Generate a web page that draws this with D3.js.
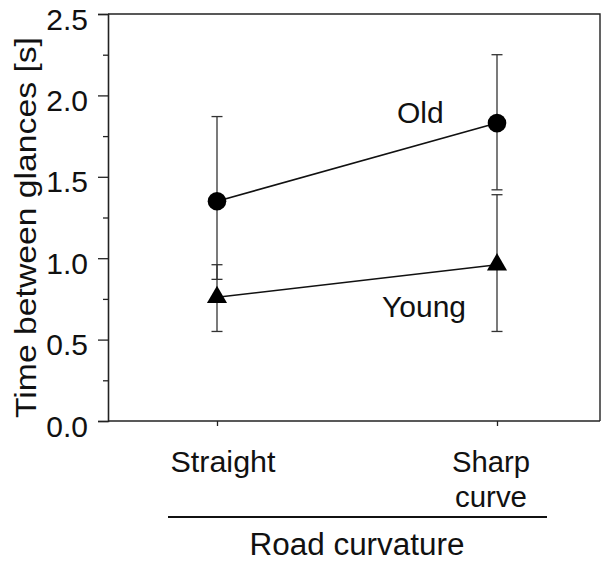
<!DOCTYPE html>
<html>
<head>
<meta charset="utf-8">
<script src="https://cdn.jsdelivr.net/npm/d3@7"></script>
<style>
  html, body { margin: 0; padding: 0; background: #fff; }
  svg { display: block; }
  text { font-family: "Liberation Sans", Arial, Helvetica, sans-serif; fill: #111; }
</style>
</head>
<body>
<script>
// ---- data ----
const categories = ["Straight", "Sharp curve"];
const categoryLines = [["Straight"], ["Sharp", "curve"]];
const oldMean = [1.35, 1.83];
const oldUpper = [1.87, 2.25];
const oldLower = [0.87, 1.42];
const youngMean = [0.76, 0.96];
const youngUpper = [0.96, 1.39];
const youngLower = [0.55, 0.55];
const majorTicks = [0.0, 0.5, 1.0, 1.5, 2.0, 2.5];
const minorTicks = [0.25, 0.75, 1.25, 1.75, 2.25];
const seriesNames = ["Old", "Young"];
const yTitle = "Time between glances [s]";
const xTitle = "Road curvature";

(function () {
const W = 603, H = 563;
const pL = 108, pR = 600, pT = 14, pB = 421;

const svg = d3.select("body").append("svg").attr("width", W).attr("height", H);

const x = d3.scalePoint().domain(categories).range([217, 497]);
const y = d3.scaleLinear().domain([0, 2.5]).range([pB, pT]);

// frame (top and right)
svg.append("path")
  .attr("d", `M${pL},${pT}H${pR}V${pB}`)
  .attr("fill", "none").attr("stroke", "#222").attr("stroke-width", 1.4);

// y axis major
const yAxis = svg.append("g").attr("transform", `translate(${pL},0)`)
  .call(d3.axisLeft(y).tickValues(majorTicks).tickSize(10).tickPadding(10)
    .tickFormat(d3.format(".1f")));
yAxis.select(".domain").attr("stroke", "#222").attr("stroke-width", 1.6);
yAxis.selectAll(".tick line").attr("stroke", "#222").attr("stroke-width", 1.3);
yAxis.selectAll(".tick text")
  .attr("font-size", 30).attr("dy", 15).attr("fill", "#111")
  .style("font-family", '"Liberation Sans", Arial, sans-serif');

// y axis minor
const yMinor = svg.append("g").attr("transform", `translate(${pL},0)`)
  .call(d3.axisLeft(y).tickValues(minorTicks).tickSize(5).tickFormat(""));
yMinor.select(".domain").remove();
yMinor.selectAll(".tick line").attr("stroke", "#222").attr("stroke-width", 1.3);

// x axis
const xAxis = svg.append("g").attr("transform", `translate(0,${pB})`)
  .call(d3.axisBottom(x).tickSize(5).tickFormat(""));
xAxis.select(".domain").attr("d", `M${pL},0H${pR}`).attr("stroke", "#222").attr("stroke-width", 1.6);
xAxis.selectAll(".tick line").attr("stroke", "#222").attr("stroke-width", 1.3);

// category labels
const catOffsets = [[6], [-6, -6]];
const catLengths = [[105], [78, 72]];
categories.forEach((c, i) => {
  categoryLines[i].forEach((line, j) => {
    svg.append("text")
      .attr("x", x(c) + catOffsets[i][j])
      .attr("y", 472 + j * 35)
      .attr("text-anchor", "middle")
      .attr("font-size", 29)
      .attr("textLength", catLengths[i][j])
      .attr("lengthAdjust", "spacingAndGlyphs")
      .text(line);
  });
});

// underline and x title
svg.append("line").attr("x1", 168).attr("x2", 547).attr("y1", 517).attr("y2", 517)
  .attr("stroke", "#111").attr("stroke-width", 2.2);
svg.append("text").attr("x", 357).attr("y", 555).attr("text-anchor", "middle")
  .attr("font-size", 31).attr("textLength", 215).attr("lengthAdjust", "spacingAndGlyphs")
  .text(xTitle);

// y title
svg.append("text")
  .attr("transform", `translate(36,${(37 + 418) / 2}) rotate(-90)`)
  .attr("text-anchor", "middle")
  .attr("font-size", 29)
  .attr("textLength", 381).attr("lengthAdjust", "spacingAndGlyphs")
  .text(yTitle);

// error bars
function errorBars(upper, lower) {
  const g = svg.append("g").attr("stroke", "#333").attr("stroke-width", 1.3).attr("fill", "none");
  categories.forEach((c, i) => {
    const cx = x(c);
    g.append("line").attr("x1", cx).attr("x2", cx).attr("y1", y(upper[i])).attr("y2", y(lower[i]));
    [upper[i], lower[i]].forEach(v => {
      g.append("line").attr("x1", cx - 5.5).attr("x2", cx + 5.5).attr("y1", y(v)).attr("y2", y(v));
    });
  });
}
errorBars(oldUpper, oldLower);
errorBars(youngUpper, youngLower);

// lines
const lineGen = d3.line().x((d, i) => x(categories[i])).y(d => y(d));
svg.append("path").datum(oldMean).attr("d", lineGen)
  .attr("fill", "none").attr("stroke", "#111").attr("stroke-width", 1.6);
svg.append("path").datum(youngMean).attr("d", lineGen)
  .attr("fill", "none").attr("stroke", "#111").attr("stroke-width", 1.6);

// markers
svg.selectAll(".oldpt").data(oldMean).enter().append("circle")
  .attr("cx", (d, i) => x(categories[i])).attr("cy", d => y(d)).attr("r", 9.3)
  .attr("fill", "#000");
svg.selectAll(".youngpt").data(youngMean).enter().append("path")
  .attr("d", d3.symbol().type(d3.symbolTriangle).size(175))
  .attr("transform", (d, i) => `translate(${x(categories[i])},${y(d)})`)
  .attr("fill", "#000");

// series labels
svg.append("text").attr("x", 397).attr("y", 123).attr("font-size", 30).text(seriesNames[0]);
svg.append("text").attr("x", 382).attr("y", 317).attr("font-size", 30).text(seriesNames[1]);
})();
</script>
</body>
</html>
